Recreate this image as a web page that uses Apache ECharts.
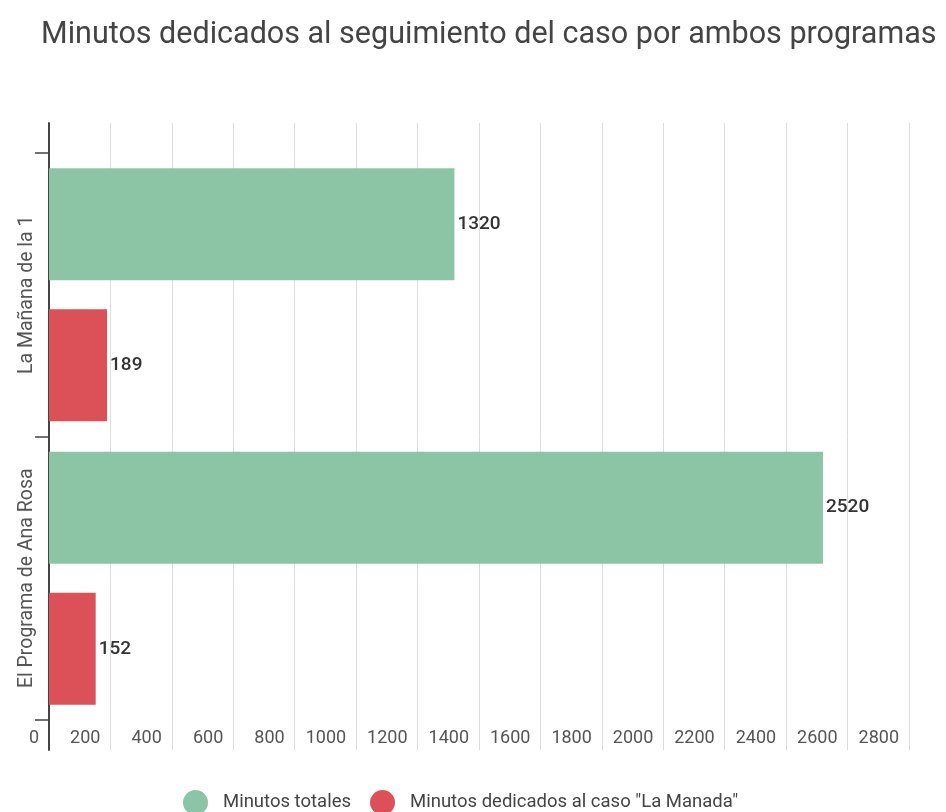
<!DOCTYPE html>
<html>
<head>
<meta charset="utf-8">
<title>Minutos dedicados</title>
<script src="https://cdn.jsdelivr.net/npm/echarts@6/dist/echarts.min.js"></script>
<style>
  html, body { margin: 0; padding: 0; background: #fff; }
  #chart { width: 946px; height: 812px; }
</style>
</head>
<body>
<div id="chart"></div>
<script>
const programas = ['La Mañana de la 1', 'El Programa de Ana Rosa']
const minutosTotales = [1320, 2520]
const minutosManada = [189, 152]
const seriesNames = ['Minutos totales', 'Minutos dedicados al caso "La Manada"']

const chart = echarts.init(document.getElementById('chart'))
const font = 'Roboto, "Noto Sans", sans-serif'

const valueLabel = { show: true, position: 'right', distance: 3, fontSize: 19, color: '#333', fontWeight: 500, fontFamily: font }

chart.setOption({
  animation: false,
  color: ['#8cc5a6', '#db5157'],
  textStyle: { fontFamily: font },
  title: {
    text: 'Minutos dedicados al seguimiento del caso por ambos programas',
    left: 36,
    top: 15,
    textStyle: { fontFamily: font, fontSize: 30.5, fontWeight: 'normal', color: '#444' }
  },
  legend: {
    top: 785,
    left: 178,
    icon: 'circle',
    itemWidth: 25,
    itemHeight: 25,
    itemGap: 19,
    textStyle: { fontFamily: font, fontSize: 18.5, color: '#444', padding: [0, 0, 0, 10] },
    data: seriesNames
  },
  grid: [
    // bars
    { left: 49, right: 37, top: 153, bottom: 92 },
    // taller grid only for gridlines + axis line
    { left: 49, right: 37, top: 123, bottom: 62 }
  ],
  xAxis: [
    {
      gridIndex: 0,
      type: 'value',
      min: 0, max: 2800, interval: 200,
      axisLine: { show: false },
      axisTick: { show: false },
      splitLine: { show: false },
      axisLabel: {
        align: 'right',
        padding: [0, 10, 0, 0],
        margin: 9,
        fontSize: 18,
        color: '#555',
        fontFamily: font,
        formatter: v => String(v)
      }
    },
    {
      gridIndex: 1,
      type: 'value',
      min: 0, max: 2800, interval: 200,
      axisLine: { show: false },
      axisTick: { show: false },
      axisLabel: { show: false },
      splitLine: { show: true, lineStyle: { color: '#dcdcdc', width: 1 } }
    }
  ],
  yAxis: [
    {
      gridIndex: 0,
      type: 'category',
      inverse: true,
      data: programas,
      axisLine: { show: false },
      axisTick: { show: true, length: 14, lineStyle: { color: '#444', width: 1.5 } },
      axisLabel: {
        interval: 0,
        hideOverlap: false,
        rotate: 90,
        margin: 12,
        fontSize: 19.5,
        color: '#555',
        fontFamily: font
      }
    },
    {
      gridIndex: 1,
      type: 'value',
      axisLine: { show: true, lineStyle: { color: '#444', width: 2 } },
      axisTick: { show: false },
      axisLabel: { show: false },
      splitLine: { show: false }
    }
  ],
  series: [
    {
      name: seriesNames[0],
      type: 'bar',
      xAxisIndex: 0, yAxisIndex: 0,
      data: minutosTotales,
      barWidth: 112,
      barGap: '26%',
      label: valueLabel
    },
    {
      name: seriesNames[1],
      type: 'bar',
      xAxisIndex: 0, yAxisIndex: 0,
      data: minutosManada,
      barWidth: 112,
      barGap: '26%',
      label: valueLabel
    }
  ]
})
</script>
</body>
</html>
